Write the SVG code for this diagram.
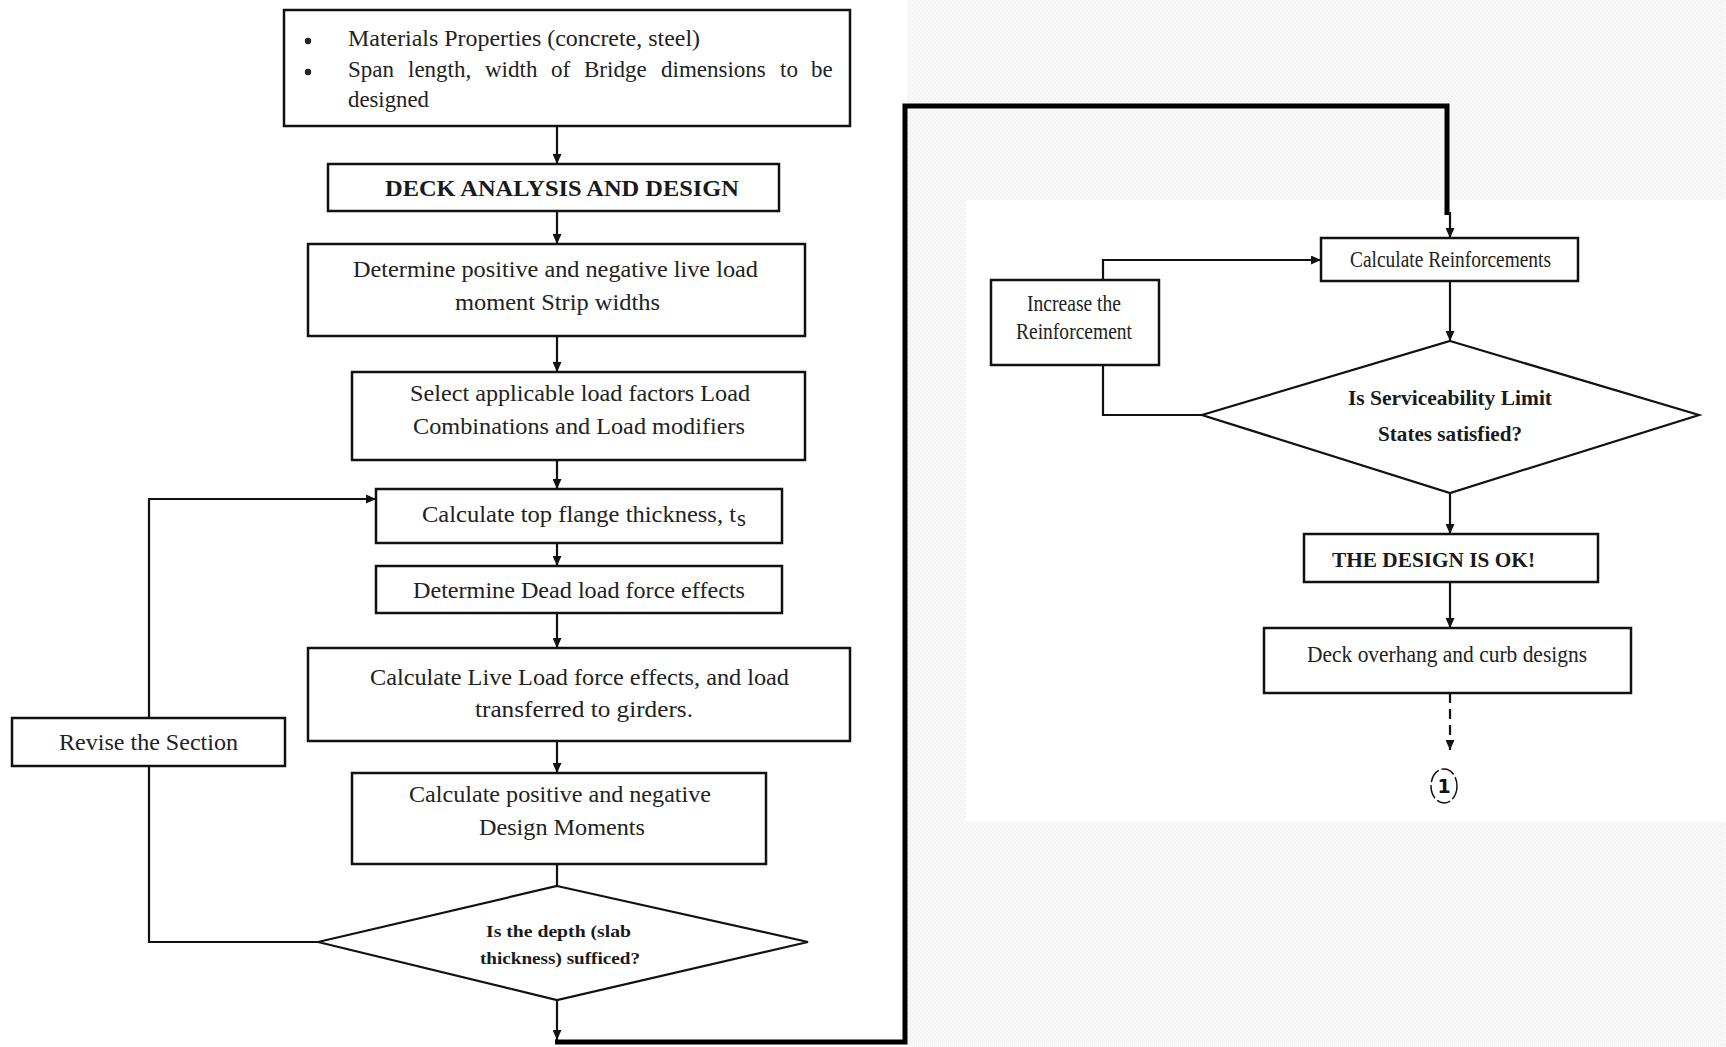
<svg xmlns="http://www.w3.org/2000/svg" width="1726" height="1047" viewBox="0 0 1726 1047">
  <defs>
    <pattern id="grain" width="4" height="4" patternUnits="userSpaceOnUse">
      <rect width="4" height="4" fill="#f8f8f8"/>
      <rect x="0" y="0" width="1" height="1" fill="#eaeaea"/>
      <rect x="2" y="2" width="1" height="1" fill="#eaeaea"/>
    </pattern>
    <marker id="arrow" viewBox="0 0 10 9" markerWidth="10" markerHeight="9" refX="10" refY="4.5" markerUnits="userSpaceOnUse" orient="auto">
      <path d="M0,0 L10,4.5 L0,9 z" fill="#111"/>
    </marker>
    <style>
      .box { fill: #fff; stroke: #111; stroke-width: 2.5; }
      .dia { fill: #fff; stroke: #111; stroke-width: 2.2; }
      .t { font-family: "Liberation Serif", "Times New Roman", serif; font-size: 23px; fill: #222; }
      .b { font-family: "Liberation Serif", "Times New Roman", serif; font-weight: bold; fill: #1a1a1a; }
      .ln { fill: none; stroke: #111; stroke-width: 2.2; }
      .thick { fill: none; stroke: #000; stroke-width: 5; }
    </style>
  </defs>

  <rect width="1726" height="1047" fill="#fff"/>
  <!-- textured backdrop behind the right-hand column -->
  <path d="M907,0 H1726 V200 H966 V822 H1726 V1047 H907 Z" fill="url(#grain)"/>

  <!-- connectors -->
  <g id="connectors">
    <line class="ln" x1="557" y1="126" x2="557" y2="164" marker-end="url(#arrow)"/>
    <line class="ln" x1="557" y1="211" x2="557" y2="244" marker-end="url(#arrow)"/>
    <line class="ln" x1="557" y1="336" x2="557" y2="372" marker-end="url(#arrow)"/>
    <line class="ln" x1="557" y1="460" x2="557" y2="489" marker-end="url(#arrow)"/>
    <line class="ln" x1="557" y1="543" x2="557" y2="566" marker-end="url(#arrow)"/>
    <line class="ln" x1="557" y1="613" x2="557" y2="648" marker-end="url(#arrow)"/>
    <line class="ln" x1="557" y1="741" x2="557" y2="773" marker-end="url(#arrow)"/>
    <line class="ln" x1="557" y1="864" x2="557" y2="886"/>
    <line class="ln" x1="557" y1="1000" x2="557" y2="1040" marker-end="url(#arrow)"/>
    <!-- loop back: diamond -> revise -> top flange -->
    <polyline class="ln" points="318,942 149,942 149,766"/>
    <polyline class="ln" points="149,718 149,499 376,499" marker-end="url(#arrow)"/>
    <!-- long transfer to the second column -->
    <polyline class="thick" points="555,1042 905,1042 905,106 1447,106 1447,215"/>
    <line class="ln" x1="1450" y1="212" x2="1450" y2="238" marker-end="url(#arrow)"/>
    <!-- reinforcement loop -->
    <line class="ln" x1="1450" y1="281" x2="1450" y2="341" marker-end="url(#arrow)"/>
    <polyline class="ln" points="1202,415 1103,415 1103,365"/>
    <polyline class="ln" points="1103,280 1103,260 1321,260" marker-end="url(#arrow)"/>
    <line class="ln" x1="1450" y1="493" x2="1450" y2="534" marker-end="url(#arrow)"/>
    <line class="ln" x1="1450" y1="582" x2="1450" y2="628" marker-end="url(#arrow)"/>
    <line class="ln" x1="1450" y1="693" x2="1450" y2="750" stroke-dasharray="10 6" marker-end="url(#arrow)"/>
  </g>

  <g id="inputs">
    <rect class="box" x="284" y="10" width="566" height="116"/>
    <circle cx="308" cy="41" r="3.2" fill="#222"/>
    <circle cx="308" cy="72" r="3.2" fill="#222"/>
    <text class="t" x="348" y="46" textLength="352" lengthAdjust="spacingAndGlyphs">Materials Properties (concrete, steel)</text>
    <!-- justified line: words placed individually -->
    <text class="t" y="77">
      <tspan x="348">Span</tspan>
      <tspan x="408">length,</tspan>
      <tspan x="485">width</tspan>
      <tspan x="551">of</tspan>
      <tspan x="584">Bridge</tspan>
      <tspan x="661">dimensions</tspan>
      <tspan x="780">to</tspan>
      <tspan x="811">be</tspan>
    </text>
    <text class="t" x="348" y="107" textLength="81" lengthAdjust="spacingAndGlyphs">designed</text>
  </g>

  <g id="deck-title">
    <rect class="box" x="328" y="164" width="451" height="47"/>
    <text class="b" x="385" y="196" font-size="24" textLength="354" lengthAdjust="spacingAndGlyphs">DECK ANALYSIS AND DESIGN</text>
  </g>

  <g id="strip-widths">
    <rect class="box" x="308" y="244" width="497" height="92"/>
    <text class="t" x="353" y="277" textLength="405" lengthAdjust="spacingAndGlyphs">Determine positive and negative live load</text>
    <text class="t" x="455" y="310" textLength="205" lengthAdjust="spacingAndGlyphs">moment Strip widths</text>
  </g>

  <g id="load-factors">
    <rect class="box" x="352" y="372" width="453" height="88"/>
    <text class="t" x="410" y="401" textLength="340" lengthAdjust="spacingAndGlyphs">Select applicable load factors Load</text>
    <text class="t" x="413" y="434" textLength="332" lengthAdjust="spacingAndGlyphs">Combinations and Load modifiers</text>
  </g>

  <g id="flange-thickness">
    <rect class="box" x="376" y="489" width="406" height="54"/>
    <text class="t" x="422" y="522" textLength="314" lengthAdjust="spacingAndGlyphs">Calculate top flange thickness, t</text>
    <text class="t" x="737" y="526" font-size="9">s</text>
  </g>

  <g id="dead-load">
    <rect class="box" x="376" y="566" width="406" height="47"/>
    <text class="t" x="413" y="598" textLength="332" lengthAdjust="spacingAndGlyphs">Determine Dead load force effects</text>
  </g>

  <g id="live-load">
    <rect class="box" x="308" y="648" width="542" height="93"/>
    <text class="t" x="370" y="685" textLength="419" lengthAdjust="spacingAndGlyphs">Calculate Live Load force effects, and load</text>
    <text class="t" x="475" y="717" textLength="218" lengthAdjust="spacingAndGlyphs">transferred to girders.</text>
  </g>

  <g id="design-moments">
    <rect class="box" x="352" y="773" width="414" height="91"/>
    <text class="t" x="409" y="802" textLength="302" lengthAdjust="spacingAndGlyphs">Calculate positive and negative</text>
    <text class="t" x="479" y="835" textLength="166" lengthAdjust="spacingAndGlyphs">Design Moments</text>
  </g>

  <g id="depth-check">
    <polygon class="dia" points="557,886 808,942 557,1000 318,942"/>
    <text class="b" x="486" y="937" font-size="17" textLength="145" lengthAdjust="spacingAndGlyphs">Is the depth (slab</text>
    <text class="b" x="480" y="964" font-size="17" textLength="160" lengthAdjust="spacingAndGlyphs">thickness) sufficed?</text>
  </g>

  <g id="revise-section">
    <rect class="box" x="12" y="718" width="273" height="48"/>
    <text class="t" x="59" y="750" textLength="179" lengthAdjust="spacingAndGlyphs">Revise the Section</text>
  </g>

  <g id="reinforcements">
    <rect class="box" x="1321" y="238" width="257" height="43"/>
    <text class="t" x="1350" y="267" font-size="21" textLength="201" lengthAdjust="spacingAndGlyphs">Calculate Reinforcements</text>
  </g>

  <g id="increase-reinforcement">
    <rect class="box" x="991" y="280" width="168" height="85"/>
    <text class="t" x="1027" y="311" font-size="21" textLength="94" lengthAdjust="spacingAndGlyphs">Increase the</text>
    <text class="t" x="1016" y="339" font-size="21" textLength="116" lengthAdjust="spacingAndGlyphs">Reinforcement</text>
  </g>

  <g id="serviceability-check">
    <polygon class="dia" points="1450,341 1699,415 1450,493 1202,415"/>
    <text class="b" x="1348" y="405" font-size="22" textLength="204" lengthAdjust="spacingAndGlyphs">Is Serviceability Limit</text>
    <text class="b" x="1378" y="441" font-size="22" textLength="144" lengthAdjust="spacingAndGlyphs">States satisfied?</text>
  </g>

  <g id="design-ok">
    <rect class="box" x="1304" y="534" width="294" height="48"/>
    <text class="b" x="1332" y="567" font-size="22" textLength="203" lengthAdjust="spacingAndGlyphs">THE DESIGN IS OK!</text>
  </g>

  <g id="overhang-curb">
    <rect class="box" x="1264" y="628" width="367" height="65"/>
    <text class="t" x="1307" y="662" font-size="22" textLength="280" lengthAdjust="spacingAndGlyphs">Deck overhang and curb designs</text>
  </g>

  <g id="connector-1">
    <ellipse cx="1444" cy="786" rx="13" ry="17" fill="none" stroke="#111" stroke-width="1.5" stroke-dasharray="14 3"/>
    <text x="1444" y="793" text-anchor="middle" font-family="DejaVu Sans, sans-serif" font-weight="bold" font-size="19" fill="#111">1</text>
  </g>
</svg>
